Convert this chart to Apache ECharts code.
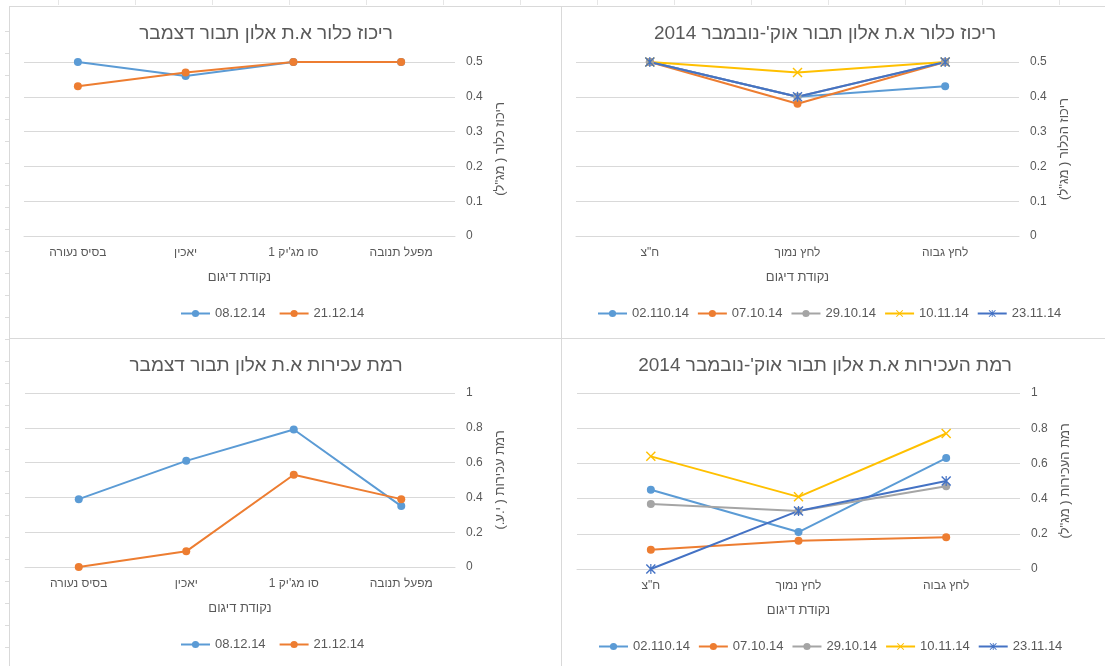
<!DOCTYPE html>
<html>
<head>
<meta charset="utf-8">
<title>איכות מים א.ת אלון תבור</title>
<script src="https://cdn.jsdelivr.net/npm/echarts@6/dist/echarts.min.js"></script>
<style>
  html, body { margin: 0; padding: 0; background: #fff; }
  body { width: 1105px; height: 666px; position: relative; overflow: hidden; }
  .chart { position: absolute; direction: rtl; }
  .frame { position: absolute; border: 1px solid #d9d9d9; box-sizing: border-box; }
  .rowticks {
    position: absolute; left: 5px; top: 10px; width: 4px; height: 656px;
    background: repeating-linear-gradient(to bottom, transparent 0px, transparent 21px, #dcdcdc 21px, #dcdcdc 22px);
  }
  .colticks {
    position: absolute; left: 0; top: 0; width: 1105px; height: 5px;
    background: repeating-linear-gradient(to right, transparent 0px, transparent 76px, #e6e6e6 76px, #e6e6e6 77px);
    background-position: -18px 0;
  }
</style>
</head>
<body>
<div class="rowticks"></div>
<div class="colticks"></div>
<div class="frame" style="left:9px;top:6px;width:553px;height:333px;"></div>
<div class="frame" style="left:561px;top:6px;width:550px;height:333px;"></div>
<div class="frame" style="left:9px;top:338px;width:553px;height:340px;"></div>
<div class="frame" style="left:561px;top:338px;width:550px;height:340px;"></div>
<div id="chlorineDec" class="chart" style="left:9px;top:6px;width:552px;height:332px;"></div>
<div id="chlorineOctNov" class="chart" style="left:561px;top:6px;width:544px;height:332px;"></div>
<div id="turbidityDec" class="chart" style="left:9px;top:338px;width:552px;height:328px;"></div>
<div id="turbidityOctNov" class="chart" style="left:561px;top:338px;width:544px;height:328px;"></div>
<script>
// נקודות דיגום
const decPoints = ['בסיס נעורה', 'יאכין', "סו מג'יק 1", 'מפעל תנובה']
const octNovPoints = ['ח"צ', 'לחץ נמוך', 'לחץ גבוה']

// תאריכי דיגום
const decDates = ['08.12.14', '21.12.14']
const octNovDates = ['02.110.14', '07.10.14', '29.10.14', '10.11.14', '23.11.14']

// ריכוז כלור - דצמבר
const chlorine0812 = [0.5, 0.46, 0.5, 0.5]
const chlorine2112 = [0.43, 0.47, 0.5, 0.5]

// ריכוז כלור - אוקטובר-נובמבר
const chlorine0210 = [0.5, 0.4, 0.43]
const chlorine0710 = [0.5, 0.38, 0.5]
const chlorine2910 = [0.5, 0.4, 0.5]
const chlorine1011 = [0.5, 0.47, 0.5]
const chlorine2311 = [0.5, 0.4, 0.5]

// עכירות - דצמבר
const turbidity0812 = [0.39, 0.61, 0.79, 0.35]
const turbidity2112 = [0, 0.09, 0.53, 0.39]

// עכירות - אוקטובר-נובמבר
const turbidity0210 = [0.45, 0.21, 0.63]
const turbidity0710 = [0.11, 0.16, 0.18]
const turbidity2910 = [0.37, 0.33, 0.47]
const turbidity1011 = [0.64, 0.41, 0.77]
const turbidity2311 = [0, 0.33, 0.5]

// chlorine y axis 0..0.5, turbidity 0..1
const chlorineTicks = { max: 0.5, interval: 0.1 }
const turbidityTicks = { max: 1, interval: 0.2 }

const FONT = "'Liberation Sans', Arial, 'DejaVu Sans', sans-serif"
const TEXT = '#595959'
const GRID = '#d9d9d9'
const colors = ['#5B9BD5', '#ED7D31', '#A5A5A5', '#FFC000', '#4472C4']

// excel-like x and star markers
const xMark = 'path://M0,1L1,0L5,4L9,0L10,1L6,5L10,9L9,10L5,6L1,10L0,9L4,5Z'
const starMark = 'path://M0,1L1,0L5,4L9,0L10,1L6,5L10,9L9,10L5,6L1,10L0,9L4,5Z M4.4,0L5.6,0L5.6,10L4.4,10Z'
const symbols = ['circle', 'circle', 'circle', xMark, starMark]

function makeSeries(names, values) {
  return names.map((n, i) => ({
    name: n,
    type: 'line',
    data: values[i],
    symbol: symbols[i],
    symbolSize: i < 3 ? 8 : 10,
    showAllSymbol: true,
    color: colors[i],
    lineStyle: { width: 2, color: colors[i] },
    itemStyle: { color: colors[i] },
    emphasis: { disabled: true }
  }))
}

function makeOption(cfg) {
  return {
    animation: false,
    textStyle: { fontFamily: FONT },
    title: {
      text: cfg.title,
      left: cfg.titleX,
      top: 13,
      textAlign: 'center',
      textStyle: { fontFamily: FONT, fontSize: 19, fontWeight: 'normal', color: TEXT }
    },
    legend: {
      left: cfg.legendX,
      top: cfg.legendY,
      padding: 0,
      itemWidth: 29,
      itemHeight: 9,
      itemGap: cfg.legendGap,
      textStyle: { fontFamily: FONT, fontSize: 13, color: TEXT }
    },
    grid: {
      left: cfg.grid[0],
      right: cfg.grid[1],
      top: cfg.grid[2],
      bottom: cfg.grid[3]
    },
    xAxis: {
      type: 'category',
      data: cfg.categories,
      boundaryGap: true,
      name: 'נקודת דיגום',
      nameLocation: 'middle',
      nameGap: 35,
      nameTextStyle: { fontFamily: FONT, fontSize: 13, color: TEXT },
      axisLine: { show: true, lineStyle: { color: GRID, width: 1 } },
      axisTick: { show: false },
      axisLabel: { margin: 11, fontFamily: FONT, fontSize: 12, color: TEXT }
    },
    yAxis: {
      type: 'value',
      position: 'right',
      min: 0,
      max: cfg.ticks.max,
      interval: cfg.ticks.interval,
      name: cfg.yName,
      nameLocation: 'middle',
      nameRotate: 90,
      nameGap: cfg.yNameGap,
      nameTextStyle: { fontFamily: FONT, fontSize: 13, color: TEXT },
      axisLine: { show: false },
      axisTick: { show: false },
      splitLine: { lineStyle: { color: GRID, width: 1 } },
      axisLabel: { margin: 11, fontFamily: FONT, fontSize: 12, color: TEXT }
    },
    series: cfg.series
  }
}

const charts = []
function draw(id, cfg) {
  const chart = echarts.init(document.getElementById(id), null, { renderer: 'canvas' })
  chart.setOption(makeOption(cfg))
  charts.push(chart)
}

draw('chlorineDec', {
  title: 'ריכוז כלור א.ת אלון תבור דצמבר',
  titleX: 252,
  legendX: 171,
  legendY: 301,
  legendGap: 13,
  grid: [15, 106, 56, 102],
  categories: decPoints,
  ticks: chlorineTicks,
  yName: 'ריכוז כלור ( מג"ל)',
  yNameGap: 36,
  series: makeSeries(decDates, [chlorine0812, chlorine2112])
})

draw('chlorineOctNov', {
  title: "ריכוז כלור א.ת אלון תבור אוק'-נובמבר 2014",
  titleX: 259,
  legendX: 36,
  legendY: 301,
  legendGap: 8,
  grid: [15, 86, 56, 102],
  categories: octNovPoints,
  ticks: chlorineTicks,
  yName: 'ריכוז הכלור ( מג"ל)',
  yNameGap: 39,
  series: makeSeries(octNovDates, [chlorine0210, chlorine0710, chlorine2910, chlorine1011, chlorine2311])
})

draw('turbidityDec', {
  title: 'רמת עכירות א.ת אלון תבור דצמבר',
  titleX: 252,
  legendX: 171,
  legendY: 300,
  legendGap: 13,
  grid: [16, 106, 55, 99],
  categories: decPoints,
  ticks: turbidityTicks,
  yName: 'רמת עכירות ( י.ע.)',
  yNameGap: 36,
  series: makeSeries(decDates, [turbidity0812, turbidity2112])
})

draw('turbidityOctNov', {
  title: "רמת העכירות א.ת אלון תבור אוק'-נובמבר 2014",
  titleX: 259,
  legendX: 37,
  legendY: 302,
  legendGap: 8,
  grid: [16, 85, 55, 97],
  categories: octNovPoints,
  ticks: turbidityTicks,
  yName: 'רמת העכירות ( מג"ל)',
  yNameGap: 39,
  series: makeSeries(octNovDates, [turbidity0210, turbidity0710, turbidity2910, turbidity1011, turbidity2311])
})
</script>
</body>
</html>
